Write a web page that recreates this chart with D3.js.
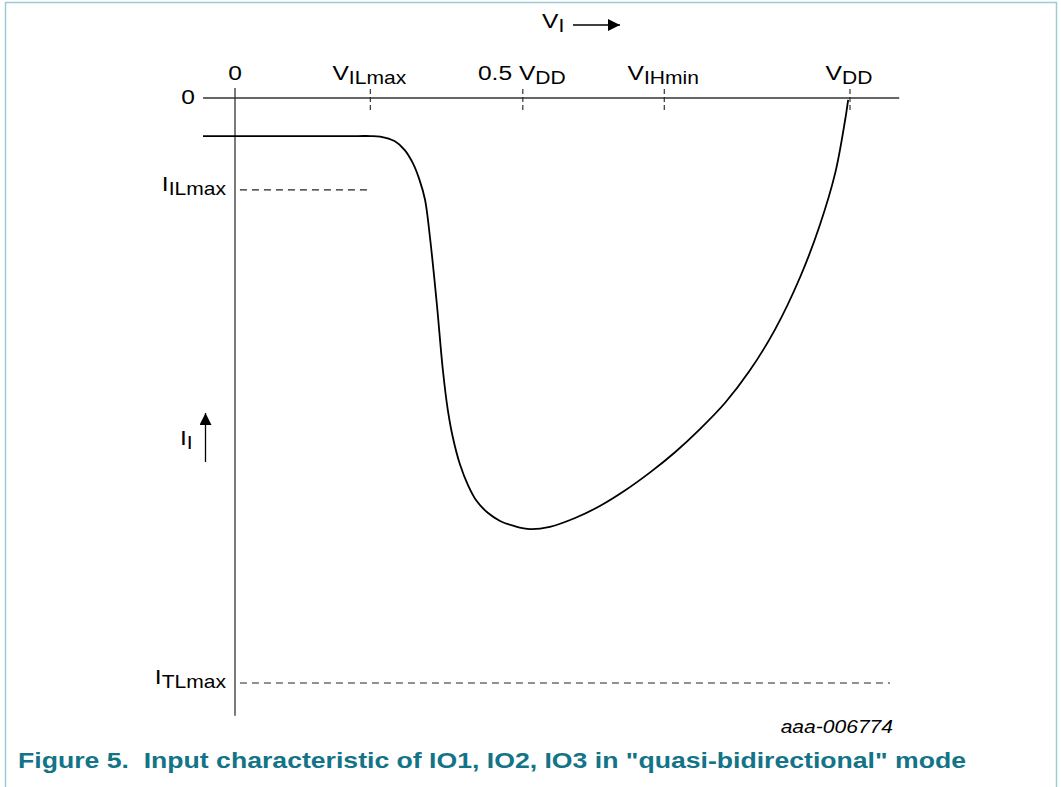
<!DOCTYPE html>
<html>
<head>
<meta charset="utf-8">
<script src="https://cdn.jsdelivr.net/npm/d3@7/dist/d3.min.js"></script>
<style>
  html, body { margin: 0; padding: 0; background: #fff; }
  svg { display: block; }
  text { font-family: "Liberation Sans", Arial, sans-serif; fill: #000; }
</style>
</head>
<body>
<svg id="chart" width="1061" height="787"></svg>
<script>
// ---- data (arbitrary units: V in % of VDD, I in % of ITLmax; negative = sourced current) ----
const curveV = [-5.2, 8.0, 20.0, 22.0, 23.6, 26.0, 27.6, 28.9, 30.0, 30.9, 31.7, 32.8, 33.8, 34.6, 35.4, 36.6, 37.9, 39.3, 41.1, 43.1, 45.5, 48.0, 51.2, 55.3, 59.4, 63.4, 67.5, 71.5, 75.6, 79.7, 83.7, 87.8, 91.9, 95.1, 97.6, 99.2, 99.7];
const curveI = [-6.5, -6.5, -6.5, -6.5, -6.6, -7.4, -8.9, -11.1, -14.0, -17.4, -23.8, -35.0, -46.5, -53.3, -57.9, -62.7, -66.2, -68.9, -70.9, -72.3, -73.2, -73.7, -73.3, -71.8, -69.7, -67.1, -64.0, -60.6, -56.6, -52.1, -46.6, -39.6, -30.6, -21.7, -12.8, -3.8, -0.3];

const xTickNames = ["0", "V|ILmax", "0.5 V|DD", "V|IHmin", "V|DD"];
const xTickValues = [0, 22.0, 46.8, 69.8, 100];
const xDashedTicks = [22.0, 46.8, 69.8, 100];

const yTickNames = ["0", "I|ILmax", "I|TLmax"];
const yTickValues = [0, -15.7, -100];

const refLineIILmax = { v0: 0.8, v1: 22.0, i: -15.7 };
const refLineITLmax = { v0: 0.8, v1: 106.5, i: -100 };

const xAxisExtent = [-5.2, 108.0];
const yAxisExtent = [1.7, -105.6];

const captionText = "Figure 5.\u00A0 Input characteristic of IO1, IO2, IO3 in \"quasi-bidirectional\" mode";
const codeText = "aaa-006774";

// ---- scales ----
const x = d3.scaleLinear().domain([0, 100]).range([235, 850]);
const y = d3.scaleLinear().domain([0, -100]).range([98, 683]);
const SX = 1.17; // horizontal stretch of the original lettering

const svg = d3.select("#chart");

// border
svg.append("rect").attr("x", 5.5).attr("y", 2.5).attr("width", 1051).attr("height", 800)
  .attr("fill", "none").attr("stroke", "#9ccbd3").attr("stroke-width", 1.5);

// arrow marker
const defs = svg.append("defs");
defs.append("marker").attr("id", "arr").attr("viewBox", "0 0 10 10")
  .attr("refX", 10).attr("refY", 5).attr("markerWidth", 14).attr("markerHeight", 12)
  .attr("markerUnits", "userSpaceOnUse").attr("orient", "auto")
  .append("path").attr("d", "M0,0 L10,5 L0,10 Z").attr("fill", "#000");

// axes lines
svg.append("line").attr("x1", x(xAxisExtent[0])).attr("x2", x(xAxisExtent[1]))
  .attr("y1", y(0)).attr("y2", y(0)).attr("stroke", "#333").attr("stroke-width", 1.3);
svg.append("line").attr("x1", x(0)).attr("x2", x(0))
  .attr("y1", y(yAxisExtent[0])).attr("y2", y(yAxisExtent[1])).attr("stroke", "#333").attr("stroke-width", 1.3);

// dashed ticks
svg.selectAll("line.xtick").data(xDashedTicks).join("line").attr("class", "xtick")
  .attr("x1", d => x(d)).attr("x2", d => x(d))
  .attr("y1", y(0) - 9).attr("y2", y(0) + 15)
  .attr("stroke", "#222").attr("stroke-width", 1.1).attr("stroke-dasharray", "5,3");

// dashed reference lines
[refLineIILmax, refLineITLmax].forEach(r => {
  svg.append("line").attr("x1", x(r.v0)).attr("x2", x(r.v1))
    .attr("y1", y(r.i)).attr("y2", y(r.i))
    .attr("stroke", "#222").attr("stroke-width", 1.1).attr("stroke-dasharray", "7,5");
});

// label helper with subscript
function label(str, px, py, anchor, fs, sfs) {
  const parts = str.split("|");
  const g = svg.append("g").attr("transform", `translate(${px},${py}) scale(${SX},1)`);
  const t = g.append("text").attr("x", 0).attr("y", 0).attr("text-anchor", anchor)
    .attr("font-size", fs);
  t.append("tspan").text(parts[0]);
  if (parts[1]) t.append("tspan").attr("font-size", sfs).attr("dy", 4).text(parts[1]);
  return t;
}

// x tick labels
xTickNames.forEach((n, i) => {
  label(n, x(xTickValues[i]) + (i === 0 ? 0 : -1), 80, "middle", 21, 18);
});
// y tick labels
yTickNames.forEach((n, i) => {
  label(n, i === 0 ? 195 : 226, y(yTickValues[i]) + (i === 0 ? 6 : 1), "end", 21, 18);
});

// axis titles
label("V|I", 542, 28, "start", 21, 18);
svg.append("line").attr("x1", 573).attr("x2", 620).attr("y1", 25).attr("y2", 25)
  .attr("stroke", "#000").attr("stroke-width", 1.3).attr("marker-end", "url(#arr)");
label("I|I", 180, 445, "start", 21, 18);
svg.append("line").attr("x1", 205.5).attr("x2", 205.5).attr("y1", 462).attr("y2", 413)
  .attr("stroke", "#000").attr("stroke-width", 1.3).attr("marker-end", "url(#arr)");

// curve
const pts = curveV.map((v, i) => [v, curveI[i]]);
svg.append("path").datum(pts)
  .attr("d", d3.line().x(d => x(d[0])).y(d => y(d[1])).curve(d3.curveCatmullRom.alpha(0.5)))
  .attr("fill", "none").attr("stroke", "#000").attr("stroke-width", 1.8);

// code text
svg.append("g").attr("transform", `translate(893,733) scale(${SX},1)`)
  .append("text").attr("text-anchor", "end")
  .attr("font-size", 18).attr("font-style", "italic").text(codeText);

// caption
svg.append("text").attr("x", 18).attr("y", 768).attr("font-size", 22).attr("font-weight", "bold")
  .attr("textLength", 948).attr("lengthAdjust", "spacingAndGlyphs")
  .style("fill", "#137387").text(captionText);
</script>
</body>
</html>
